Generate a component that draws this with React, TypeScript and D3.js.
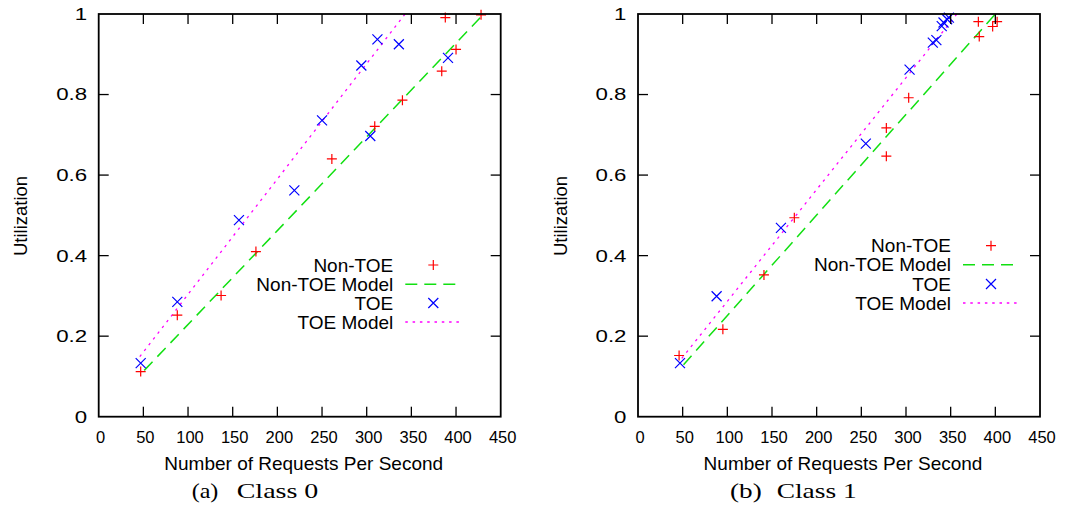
import React from "react";
import * as d3 from "d3";

type Pt = [number, number];

// ---- data ----
const xTicks = [0, 50, 100, 150, 200, 250, 300, 350, 400, 450];
const yTicks = [0, 0.2, 0.4, 0.6, 0.8, 1];
const yTickLabels = ["0", "0.2", "0.4", "0.6", "0.8", "1"];
const legendLabels = ["Non-TOE", "Non-TOE Model", "TOE", "TOE Model"];
const xLabel = "Number of Requests Per Second";
const yLabel = "Utilization";

const class0NonToe: Pt[] = [
  [47, 0.112], [88, 0.252], [137, 0.301], [176, 0.41], [261, 0.64], [309, 0.721],
  [340, 0.786], [384, 0.858], [388, 0.991], [400, 0.912], [428, 0.998],
];
const class0Toe: Pt[] = [
  [47, 0.133], [88, 0.285], [157, 0.488], [219, 0.562], [250, 0.736], [294, 0.872],
  [304, 0.697], [312, 0.937], [336, 0.925], [391, 0.891],
];
const class0NonToeModel: Pt[] = [[51, 0.115], [431, 1.0]];
const class0ToeModel: Pt[] = [[46, 0.149], [343, 1.0]];

const class1NonToe: Pt[] = [
  [46, 0.152], [95, 0.217], [141, 0.352], [175, 0.494], [278, 0.647], [278, 0.717],
  [303, 0.792], [381, 0.981], [382, 0.944], [397, 0.969], [402, 0.981],
];
const class1Toe: Pt[] = [
  [47, 0.133], [88, 0.299], [160, 0.469], [255, 0.678], [304, 0.862], [330, 0.929],
  [334, 0.935], [340, 0.97], [342, 0.979], [346, 0.987], [348, 0.991],
];
const class1NonToeModel: Pt[] = [[51, 0.129], [400, 1.0]];
const class1ToeModel: Pt[] = [[49, 0.145], [357, 1.0]];

const panels = [
  { caption: ["(a)", "Class 0"], nonToe: class0NonToe, toe: class0Toe, nonToeModel: class0NonToeModel, toeModel: class0ToeModel },
  { caption: ["(b)", "Class 1"], nonToe: class1NonToe, toe: class1Toe, nonToeModel: class1NonToeModel, toeModel: class1ToeModel },
];

// ---- layout ----
const W = 1066, H = 508;
const panelLeft = [98.7, 638];
const plotW = 402;
const top = 14, bottom = 416.7;
const sans = "'Liberation Sans', Arial, Helvetica, sans-serif";
const serif = "'Liberation Serif', 'Times New Roman', serif";
const RED = "#ff0000", BLUE = "#0000ff", GREEN = "#11e011", MAGENTA = "#ff00ff";

function Plus({ x, y }: { x: number; y: number }) {
  const s = 5;
  return <path d={`M${x - s},${y}H${x + s}M${x},${y - s}V${y + s}`} stroke={RED} strokeWidth={1.2} fill="none" />;
}
function Cross({ x, y }: { x: number; y: number }) {
  const s = 5;
  return <path d={`M${x - s},${y - s}L${x + s},${y + s}M${x - s},${y + s}L${x + s},${y - s}`} stroke={BLUE} strokeWidth={1.2} fill="none" />;
}

function Panel({ idx }: { idx: number }) {
  const p = panels[idx];
  const left = panelLeft[idx];
  const x = d3.scaleLinear().domain([0, 450]).range([left, left + plotW]);
  const y = d3.scaleLinear().domain([0, 1]).range([bottom, top]);
  const line = d3.line<Pt>().x((d) => x(d[0])).y((d) => y(d[1]));
  const tickLen = 10;
  const legX = idx === 0 ? 393.3 : 951;
  const legY = idx === 0 ? [265, 284.3, 303, 322] : [245.7, 264.7, 284, 303];
  const cx = (x(0) + x(450)) / 2;
  const capX = idx === 0 ? [191.7, 236.7] : [730, 776.7];
  return (
    <g>
      {/* model lines */}
      <path d={line(p.nonToeModel) || ""} stroke={GREEN} strokeWidth={1.5} strokeDasharray="12,7" fill="none" />
      <path d={line(p.toeModel) || ""} stroke={MAGENTA} strokeWidth={1.3} strokeDasharray="2.5,4.8" fill="none" />
      {p.nonToe.map((d, i) => <Plus key={"n" + i} x={x(d[0])} y={y(d[1])} />)}
      {p.toe.map((d, i) => <Cross key={"t" + i} x={x(d[0])} y={y(d[1])} />)}
      {/* frame */}
      <rect x={x(0)} y={y(1)} width={x(450) - x(0)} height={y(0) - y(1)} fill="none" stroke="#000" strokeWidth={1.8} />
      {xTicks.filter((t) => t > 0 && t < 450).map((t) => (
        <g key={"xt" + t}>
          <line x1={x(t)} x2={x(t)} y1={y(0)} y2={y(0) - tickLen} stroke="#000" strokeWidth={1.3} />
          <line x1={x(t)} x2={x(t)} y1={y(1)} y2={y(1) + tickLen} stroke="#000" strokeWidth={1.3} />
        </g>
      ))}
      {yTicks.filter((t) => t > 0 && t < 1).map((t) => (
        <g key={"yt" + t}>
          <line x1={x(0)} x2={x(0) + tickLen} y1={y(t)} y2={y(t)} stroke="#000" strokeWidth={1.3} />
          <line x1={x(450)} x2={x(450) - tickLen} y1={y(t)} y2={y(t)} stroke="#000" strokeWidth={1.3} />
        </g>
      ))}
      {/* tick labels */}
      {xTicks.map((t) => (
        <text key={"xl" + t} x={x(t) + 2} y={443} textAnchor="middle" fontFamily={sans} fontSize={16.5} fill="#000">{t}</text>
      ))}
      {yTicks.map((t, i) => (
        <text key={"yl" + t} transform={`translate(${x(0) - 11.5},${y(t)}) scale(1.35,1)`} textAnchor="end" dominantBaseline="central" fontFamily={sans} fontSize={16.5} fill="#000">{yTickLabels[i]}</text>
      ))}
      {/* axis labels */}
      <text x={cx + 4} y={470} textAnchor="middle" fontFamily={sans} fontSize={19} fill="#000">{xLabel}</text>
      <text transform={`translate(${x(0) - 78},${216}) rotate(-90)`} textAnchor="middle" dominantBaseline="central" fontFamily={sans} fontSize={18.5} fill="#000">{yLabel}</text>
      {/* legend */}
      {legendLabels.map((l, i) => (
        <text key={"lg" + i} x={legX} y={legY[i]} textAnchor="end" dominantBaseline="central" fontFamily={sans} fontSize={19} fill="#000">{l}</text>
      ))}
      <Plus x={legX + 40} y={legY[0]} />
      <line x1={legX + 12} x2={legX + 67} y1={legY[1]} y2={legY[1]} stroke={GREEN} strokeWidth={1.5} strokeDasharray="12,7" />
      <Cross x={legX + 40} y={legY[2]} />
      <line x1={legX + 12} x2={legX + 67} y1={legY[3]} y2={legY[3]} stroke={MAGENTA} strokeWidth={1.3} strokeDasharray="2.5,4.8" />
      {/* caption */}
      <text x={capX[0]} y={498} fontFamily={serif} fontSize={22} fill="#000" textLength={idx === 0 ? 26.7 : 31.7} lengthAdjust="spacingAndGlyphs">{p.caption[0]}</text>
      <text x={capX[1]} y={498} fontFamily={serif} fontSize={22} fill="#000" textLength={idx === 0 ? 81.7 : 80} lengthAdjust="spacingAndGlyphs">{p.caption[1]}</text>
    </g>
  );
}

export default function App() {
  return (
    <svg width={W} height={H} style={{ position: "absolute", left: 0, top: 0, background: "#fff" }}>
      <rect x={0} y={0} width={W} height={H} fill="#fff" />
      <Panel idx={0} />
      <Panel idx={1} />
    </svg>
  );
}
